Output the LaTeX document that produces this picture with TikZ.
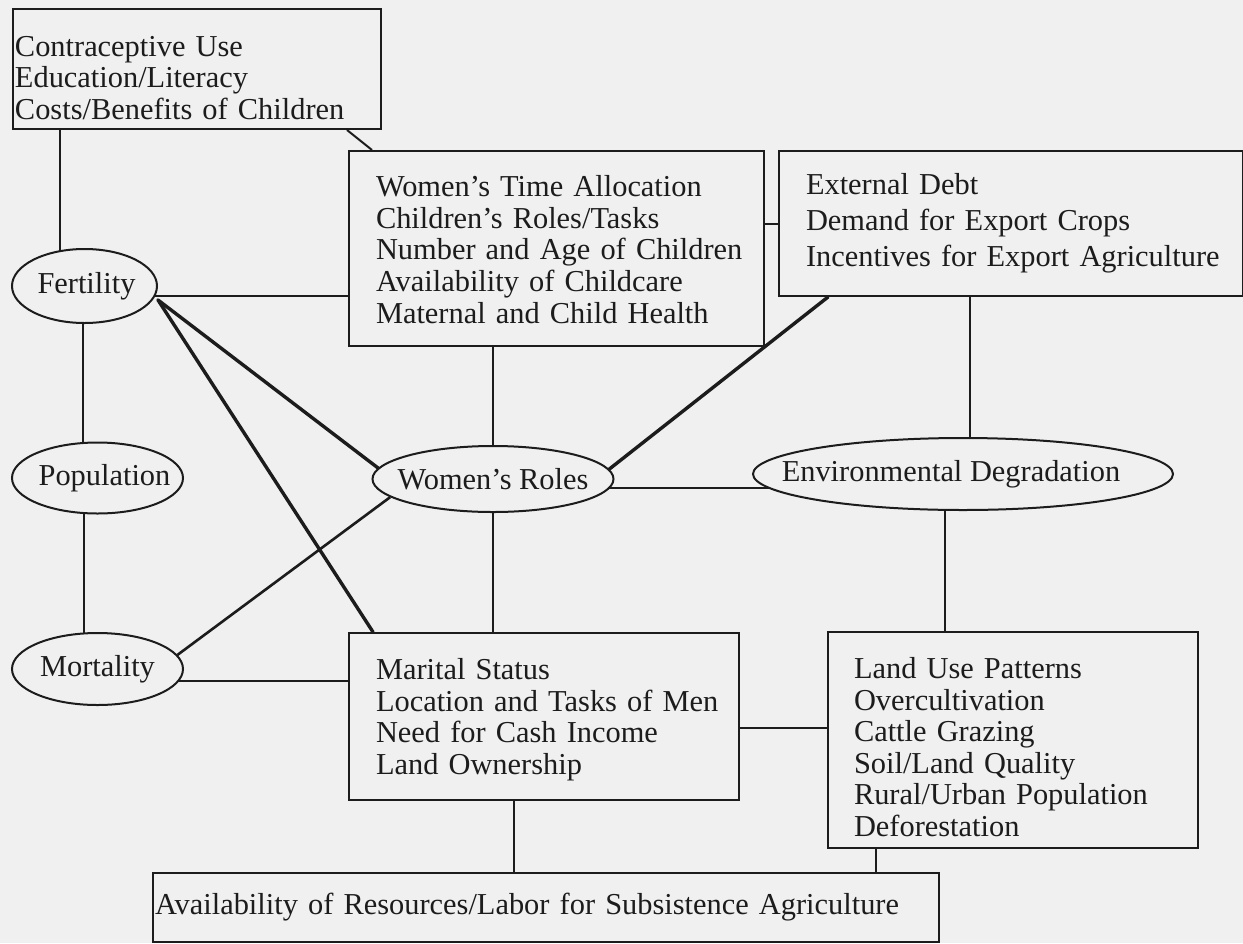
\documentclass[tikz,border=0pt]{standalone}
\usepackage{fontspec}
\setmainfont{Liberation Serif}
\usetikzlibrary{shapes.geometric}
\definecolor{paper}{RGB}{240,240,240}
\definecolor{ink}{RGB}{28,28,28}
\pgfdeclarelayer{sheet}
\pgfdeclarelayer{wires}
\pgfsetlayers{sheet,wires,main}

\begin{document}
\begin{tikzpicture}[x=0.5pt,y=-0.5pt,
  txt/.style={font=\fontsize{15.2}{15.8}\selectfont, text=ink},
  box/.style={txt, draw=ink, fill=paper, line width=1pt, rectangle,
    anchor=north west, inner xsep=0pt, inner ysep=0pt, align=left},
  pad/.style={execute at begin node={\leftskip=#1}},
  lower/.style={execute at end node={\endgraf\vspace*{-#1}}},
  oval/.style={txt, draw=ink, fill=paper, line width=1pt, ellipse, inner sep=0pt},
  link/.style={draw=ink, line width=1pt},
  heavy/.style={draw=ink, line width=1.7pt, line cap=round},
]
\useasboundingbox (0,0) rectangle (1243,943);
\begin{pgfonlayer}{sheet}
  \fill[paper] (0,0) rectangle (1243,943);
\end{pgfonlayer}

% factor boxes
\node[box, text width=184pt, minimum height=60pt, pad=1pt, lower=9pt] (boxA) at (12,8)
  {Contraceptive Use\\Education/Literacy\\Costs/Benefits of Children};
\node[box, text width=207.5pt, minimum height=97.5pt, pad=13.5pt, lower=1pt] (boxB) at (348,150)
  {Women's Time Allocation\\Children's Roles/Tasks\\Number and Age of Children\\Availability of Childcare\\Maternal and Child Health};
\node[box, font=\fontsize{15.2}{18}\selectfont, text width=232pt, minimum height=72.5pt, pad=13.5pt] (boxC) at (778,150)
  {External Debt\\Demand for Export Crops\\Incentives for Export Agriculture};
\node[box, text width=195pt, minimum height=83.5pt, pad=13.5pt, lower=3pt] (boxD) at (348,632)
  {Marital Status\\Location and Tasks of Men\\Need for Cash Income\\Land Ownership};
\node[box, text width=185pt, minimum height=108pt, pad=13pt, lower=7pt] (boxE) at (827,631)
  {Land Use Patterns\\Overcultivation\\Cattle Grazing\\Soil/Land Quality\\Rural/Urban Population\\Deforestation};
\node[box, text width=393pt, minimum height=34.5pt, pad=1pt] (boxF) at (152,872)
  {Availability of Resources/Labor for Subsistence Agriculture};

% outcome ovals
\node[oval, minimum width=72.5pt, minimum height=37pt] (fert) at (84.5,286)
  {\makebox[0pt]{\hspace*{2pt}\raisebox{-1.5pt}{Fertility}}};
\node[oval, minimum width=85.5pt, minimum height=35.5pt] (pop) at (97.5,478)
  {\makebox[0pt]{\hspace*{7pt}Population}};
\node[oval, minimum width=85.5pt, minimum height=36pt] (mort) at (97.5,669)
  {\makebox[0pt]{Mortality}};
\node[oval, minimum width=120.5pt, minimum height=33pt] (wr) at (493,479)
  {\makebox[0pt]{Women's Roles}};
\node[oval, minimum width=210pt, minimum height=36pt] (env) at (963,474)
  {\makebox[0pt]{\hspace*{-12pt}\raisebox{-1.5pt}{Environmental Degradation}}};

% connectors
\begin{pgfonlayer}{wires}
  \draw[link] ([xshift=24pt]boxA.south west) -- ([xshift=24pt]boxA.south west |- fert.center);
  \draw[link] ([xshift=-17.5pt]boxA.south east) -- ([xshift=12pt]boxB.north west);
  \draw[link] ([yshift=-5pt]fert.center) -- ([yshift=-5pt]fert.center -| boxB.west);
  \draw[link] (boxC.west -| boxB.east) -- (boxC.west);
  \draw[link] ([xshift=-1pt]fert.center) -- ([xshift=-1pt]fert.center |- pop.center);
  \draw[link] ([xshift=-7pt]pop.center) -- ([xshift=-7pt]pop.center |- mort.center);
  \draw[heavy, shorten >=-12pt] ([yshift=-7pt]fert.east) -- ([yshift=8pt]wr.west);
  \draw[heavy] ([yshift=-7pt]fert.east) -- ([xshift=12.5pt]boxD.north west);
  \draw[link, line width=1.3pt] (mort.10) -- (wr.-170);
  \draw[link] ([yshift=-6pt]mort.center) -- ([yshift=-6pt]mort.center -| boxD.west);
  \draw[link] (wr.center |- boxB.south) -- (wr.center);
  \draw[link] (wr.center) -- (wr.center |- boxD.north);
  \draw[heavy, shorten >=-10pt] ([xshift=25pt]boxC.south west) -- ([yshift=7pt]wr.east);
  \draw[link] ([xshift=3.5pt]env.center |- boxC.south) -- ([xshift=3.5pt]env.center);
  \draw[link] ([yshift=-4.5pt]wr.center) -- ([yshift=-4.5pt]wr.center -| env.center);
  \draw[link] ([xshift=-9pt]env.center) -- ([xshift=-9pt]env.center |- boxE.north);
  \draw[link] ([yshift=-5.75pt]boxD.east) -- ([yshift=-5.75pt]boxD.east -| boxE.west);
  \draw[link] ([xshift=83pt]boxD.south west) -- ([xshift=83pt]boxD.south west |- boxF.north);
  \draw[link] ([xshift=24.5pt]boxE.south west) -- ([xshift=24.5pt]boxE.south west |- boxF.north);
\end{pgfonlayer}
\end{tikzpicture}
\end{document}
